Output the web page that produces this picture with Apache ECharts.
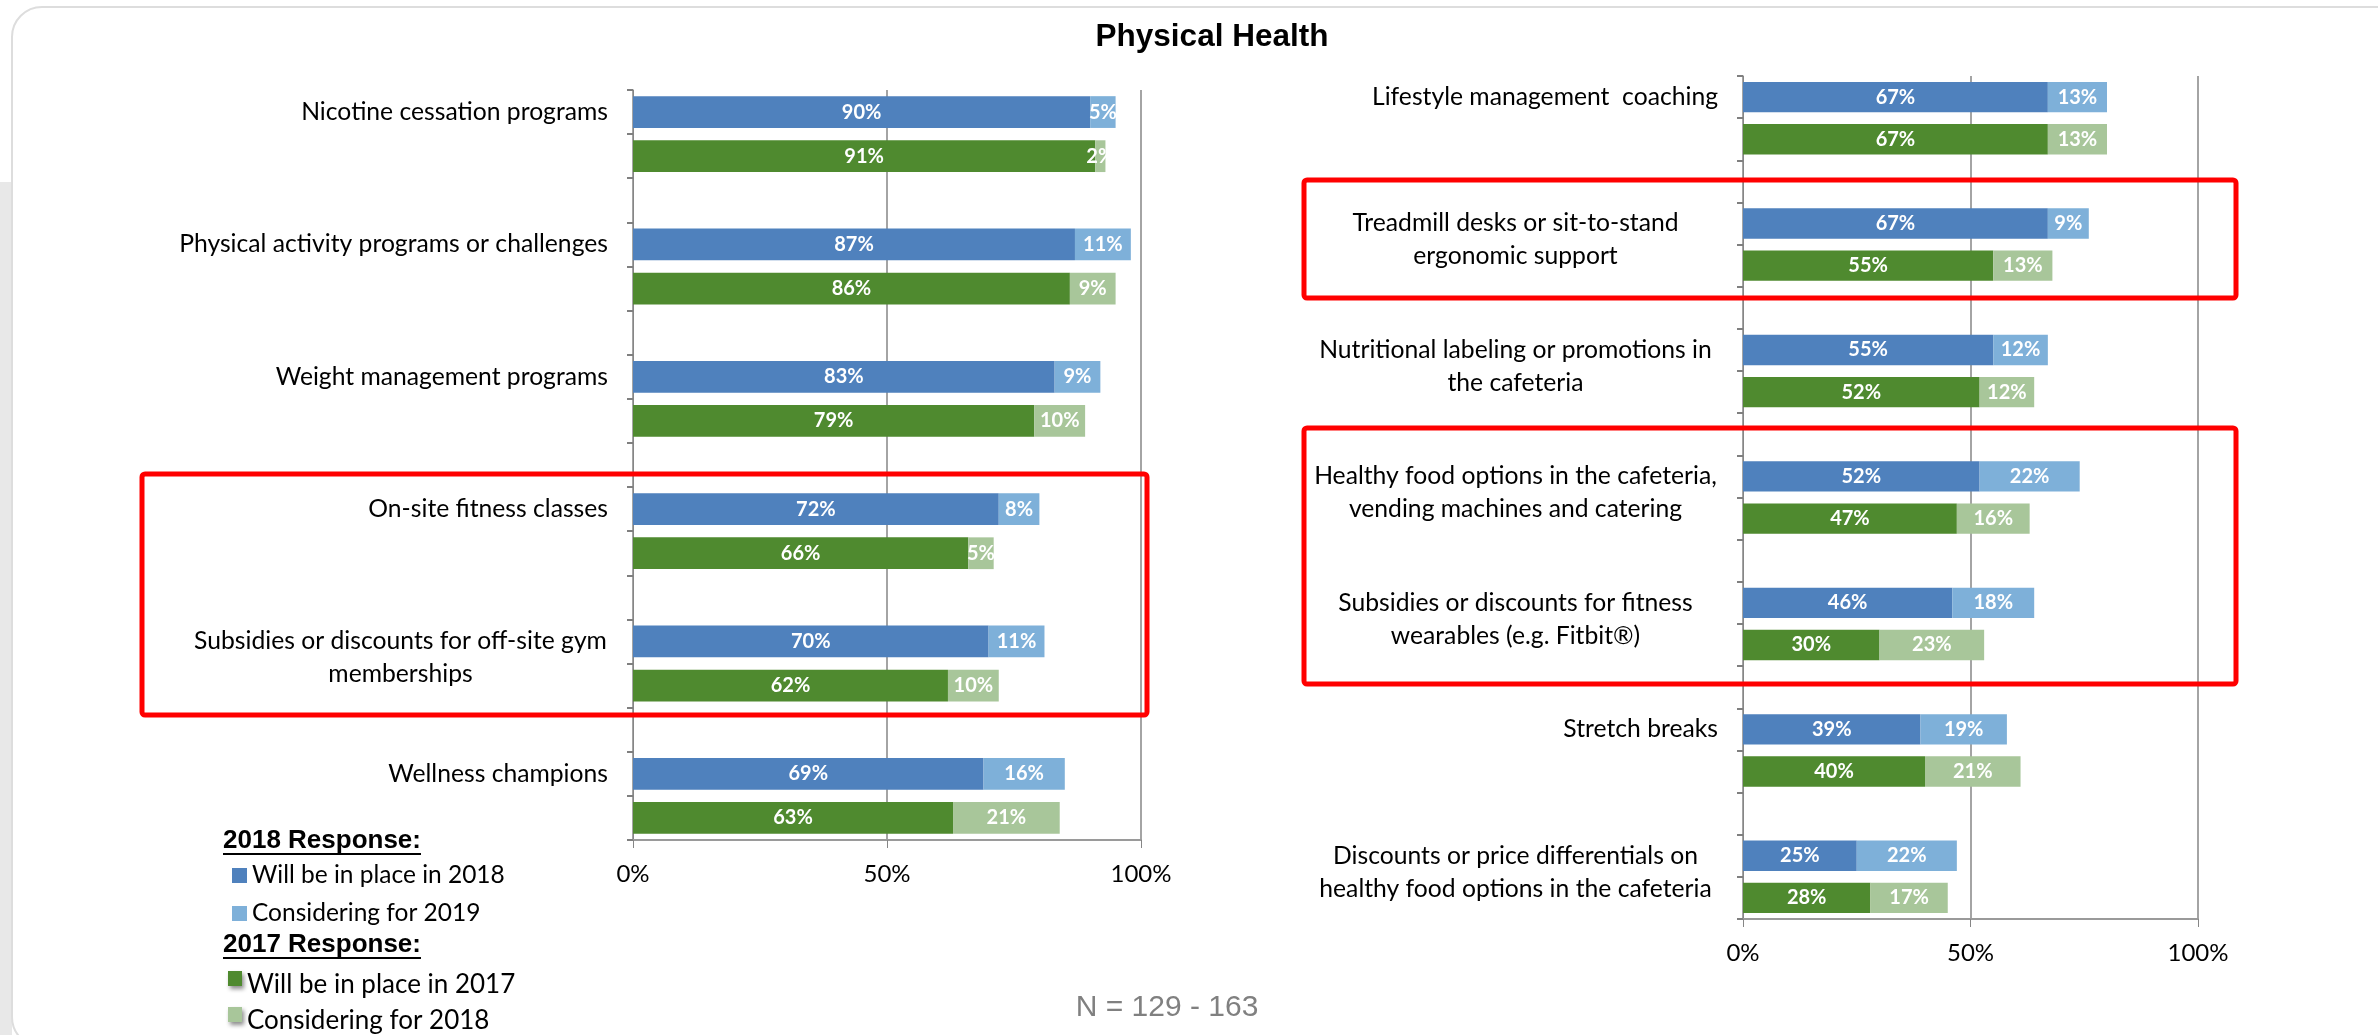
<!DOCTYPE html>
<html>
<head>
<meta charset="utf-8">
<script src="https://cdn.jsdelivr.net/npm/echarts@6/dist/echarts.min.js"></script>
<style>
html,body{margin:0;padding:0;background:#fff;}
#chart{width:2378px;height:1035px;}
</style>
</head>
<body>
<div id="chart"></div>
<script>
// ---- Data ----
const leftCats = [
  'Nicotine cessation programs',
  'Physical activity programs or challenges',
  'Weight management programs',
  'On-site fitness classes',
  'Subsidies or discounts for off-site gym\nmemberships',
  'Wellness champions'
];
const leftPlace2018 = [90, 87, 83, 72, 70, 69];
const leftConsider2019 = [5, 11, 9, 8, 11, 16];
const leftPlace2017 = [91, 86, 79, 66, 62, 63];
const leftConsider2018 = [2, 9, 10, 5, 10, 21];

const rightCats = [
  'Lifestyle management  coaching',
  'Treadmill desks or sit-to-stand\nergonomic support',
  'Nutritional labeling or promotions in\nthe cafeteria',
  'Healthy food options in the cafeteria,\nvending machines and catering',
  'Subsidies or discounts for fitness\nwearables (e.g. Fitbit\u00AE)',
  'Stretch breaks',
  'Discounts or price differentials on\nhealthy food options in the cafeteria'
];
const rightPlace2018 = [67, 67, 55, 52, 46, 39, 25];
const rightConsider2019 = [13, 9, 12, 22, 18, 19, 22];
const rightPlace2017 = [67, 55, 52, 47, 30, 40, 28];
const rightConsider2018 = [13, 13, 12, 16, 23, 21, 17];

const xTicks = [0, 50, 100];
const names = ['Will be in place in 2018', 'Considering for 2019', 'Will be in place in 2017', 'Considering for 2018'];
const titleText = 'Physical Health';
const noteText = 'N = 129 - 163';

// ---- Styles ----
const C_BLUE = '#4F81BD', C_LBLUE = '#7EB0D9', C_GREEN = '#4F8A2F', C_LGREEN = '#A8C69A';
const LABEL_FONT = 'Lato';
const LABEL_SIZE = 24.7;
const LINE_H = 33;

const measureCtx = document.createElement('canvas').getContext('2d');
function textWidth(t, font) { measureCtx.font = font; return measureCtx.measureText(t).width; }

// Build slot arrays: each category -> [blue row, green row, gap]
function buildSlots(cats) {
  const out = [];
  cats.forEach((c, i) => {
    out.push(c); out.push(''); if (i < cats.length - 1) out.push('');
  });
  return out;
}
function buildRow(cats, vals, offset) {
  const out = [];
  const n = cats.length * 3 - 1;
  for (let k = 0; k < n; k++) out.push('-');
  vals.forEach((v, i) => { out[i * 3 + offset] = v; });
  return out;
}
function labelFormatter(v) {
  if (!v) return '';
  if (v.indexOf('\n') < 0) return v;
  const lines = v.split('\n');
  return ' \n' + lines.map(l => '{c|' + l + '}').join('\n');
}
function richFor(cats) {
  let w = 0;
  cats.forEach(c => {
    if (c.indexOf('\n') >= 0) c.split('\n').forEach(l => { w = Math.max(w, textWidth(l, LABEL_SIZE + 'px ' + LABEL_FONT)); });
  });
  return w;
}

const leftSlots = buildSlots(leftCats);
const rightSlots = buildSlots(rightCats);

function makeYAxis(gridIndex, slots, cats) {
  const w = richFor(cats);
  return {
    type: 'category', gridIndex: gridIndex, inverse: true, data: slots,
    axisLine: { show: true, lineStyle: { color: '#868686', width: 1 } },
    axisTick: { show: true, interval: 0, length: 6, lineStyle: { color: '#7f7f7f', width: 2 } },
    axisLabel: {
      interval: 0, margin: 25, color: '#000', fontFamily: LABEL_FONT, fontSize: LABEL_SIZE,
      lineHeight: LINE_H, formatter: labelFormatter,
      rich: { c: { width: Math.ceil(w) + 2, align: 'center', fontFamily: LABEL_FONT, fontSize: LABEL_SIZE, lineHeight: LINE_H, color: '#000' } }
    },
    splitLine: { show: false }
  };
}
function makeXAxis(gridIndex) {
  return {
    type: 'value', gridIndex: gridIndex, min: xTicks[0], max: xTicks[xTicks.length - 1], interval: xTicks[1] - xTicks[0],
    axisLine: { show: true, lineStyle: { color: '#9a9a9a', width: 2 } },
    axisTick: { show: true, length: 8, lineStyle: { color: '#868686', width: 1 } },
    axisLabel: { formatter: '{value}%', color: '#000', fontFamily: LABEL_FONT, fontSize: 24, margin: 22 },
    splitLine: { show: true, lineStyle: { color: '#868686', width: 1.5 } }
  };
}
const barLabel = { show: true, position: 'inside', color: '#fff', fontFamily: LABEL_FONT, fontWeight: 'bold', fontSize: 20, formatter: '{c}%' };
function makeSeries(gi, cats, p18, c19, p17, c18) {
  const st = 'stack' + gi;
  const common = { type: 'bar', xAxisIndex: gi, yAxisIndex: gi, stack: st, barWidth: '72%', label: barLabel, emphasis: { disabled: true }, animation: false };
  return [
    Object.assign({ name: names[0], data: buildRow(cats, p18, 0), itemStyle: { color: C_BLUE } }, common),
    Object.assign({ name: names[1], data: buildRow(cats, c19, 0), itemStyle: { color: C_LBLUE } }, common),
    Object.assign({ name: names[2], data: buildRow(cats, p17, 1), itemStyle: { color: C_GREEN } }, common),
    Object.assign({ name: names[3], data: buildRow(cats, c18, 1), itemStyle: { color: C_LGREEN } }, common)
  ];
}

const headFont = 'bold 26px "Liberation Sans", Arial';
const h1w = textWidth('2018 Response:', headFont);
const h2w = textWidth('2017 Response:', headFont);

// marker sits in the upper part of a taller icon box so the text reads slightly lower
const legend17 = {
  orient: 'horizontal', left: 228, padding: 0,
  itemWidth: 14, itemHeight: 27, icon: 'path://M0,0L14,0L14,15L0,15Z M0,27L14,27', selectedMode: false,
  itemStyle: { borderWidth: 0, shadowBlur: 4, shadowColor: 'rgba(0,0,0,0.45)', shadowOffsetX: 2, shadowOffsetY: 3 },
  textStyle: { fontFamily: LABEL_FONT, fontSize: 26, color: '#000', lineHeight: 26 }
};

const chart = echarts.init(document.getElementById('chart'), null, { renderer: 'canvas' });
const option = {
  backgroundColor: '#ffffff',
  animation: false,
  grid: [
    { left: 633, top: 90, width: 508, height: 750, containLabel: false },
    { left: 1743, top: 76, width: 455, height: 843, containLabel: false }
  ],
  xAxis: [makeXAxis(0), makeXAxis(1)],
  yAxis: [makeYAxis(0, leftSlots, leftCats), makeYAxis(1, rightSlots, rightCats)],
  legend: [
    { data: [names[0], names[1]], orient: 'vertical', left: 232, top: 863, padding: 0,
      itemWidth: 15, itemHeight: 15, itemGap: 13, icon: 'rect', selectedMode: false,
      textStyle: { fontFamily: LABEL_FONT, fontSize: 24.5, color: '#000', lineHeight: 24 } },
    Object.assign({ data: [names[2]], top: 971 }, legend17),
    Object.assign({ data: [names[3]], top: 1007 }, legend17)
  ],
  series: [].concat(
    makeSeries(0, leftCats, leftPlace2018, leftConsider2019, leftPlace2017, leftConsider2018),
    makeSeries(1, rightCats, rightPlace2018, rightConsider2019, rightPlace2017, rightConsider2018)
  ),
  graphic: { elements: [
    { type: 'rect', z: -100, silent: true, shape: { x: 0, y: 182, width: 12, height: 900 }, style: { fill: '#e8e8e8' } },
    { type: 'rect', z: -99, silent: true, shape: { x: 12, y: 7, width: 2400, height: 1040, r: 30 }, style: { fill: '#ffffff', stroke: '#dddddd', lineWidth: 2 } },
    { type: 'text', z: 10, silent: true, x: 1212, y: 37, style: { text: titleText, fontFamily: '"Liberation Sans", Arial', fontWeight: 'bold', fontSize: 31.5, fill: '#000', align: 'center', verticalAlign: 'middle' } },
    { type: 'text', z: 10, silent: true, x: 223, y: 841, style: { text: '2018 Response:', fontFamily: '"Liberation Sans", Arial', fontWeight: 'bold', fontSize: 26, fill: '#000', align: 'left', verticalAlign: 'middle' } },
    { type: 'line', z: 10, silent: true, shape: { x1: 223, y1: 854, x2: 223 + h1w, y2: 854 }, style: { stroke: '#000', lineWidth: 2 } },
    { type: 'text', z: 10, silent: true, x: 223, y: 945, style: { text: '2017 Response:', fontFamily: '"Liberation Sans", Arial', fontWeight: 'bold', fontSize: 26, fill: '#000', align: 'left', verticalAlign: 'middle' } },
    { type: 'line', z: 10, silent: true, shape: { x1: 223, y1: 958, x2: 223 + h2w, y2: 958 }, style: { stroke: '#000', lineWidth: 2 } },
    { type: 'text', z: 10, silent: true, x: 1167, y: 1008, style: { text: noteText, fontFamily: '"Liberation Sans", Arial', fontSize: 30, fill: '#808080', align: 'center', verticalAlign: 'middle' } },
    { type: 'rect', z: 100, silent: true, shape: { x: 142, y: 474, width: 1005, height: 241, r: 3 }, style: { fill: 'none', stroke: '#FF0000', lineWidth: 5 } },
    { type: 'rect', z: 100, silent: true, shape: { x: 1304, y: 180, width: 932, height: 118, r: 3 }, style: { fill: 'none', stroke: '#FF0000', lineWidth: 5 } },
    { type: 'rect', z: 100, silent: true, shape: { x: 1304, y: 428, width: 932, height: 256, r: 3 }, style: { fill: 'none', stroke: '#FF0000', lineWidth: 5 } }
  ] }
};
chart.setOption(option);
</script>
</body>
</html>
